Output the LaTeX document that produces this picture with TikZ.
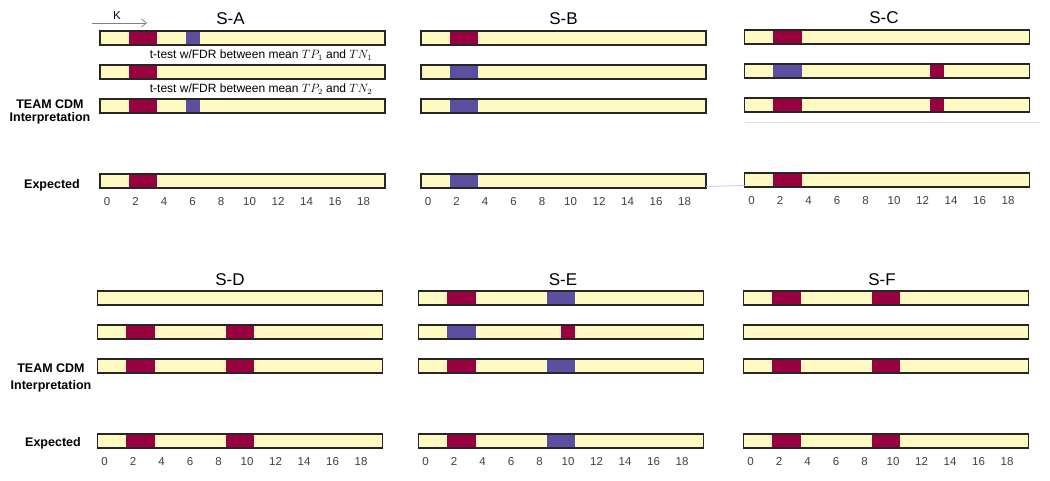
\documentclass[tikz,border=0pt]{standalone}
\usepackage{fontspec}
\setmainfont{Liberation Sans}
\usepackage{xcolor}
\usepackage{tikz}
\usetikzlibrary{positioning,arrows.meta,calc}

\definecolor{trackyellow}{HTML}{FFFAC2}
\definecolor{hitred}{HTML}{990040}
\definecolor{hitblue}{HTML}{5C4EA0}
\definecolor{tickgray}{HTML}{404040}

% fill bins #2..#3 of track #1 with colour #4
\newcommand{\hitbin}[4]{%
  \fill[#4] ([xshift={#2*14.25pt}, yshift=0.75pt]#1.south west) rectangle ([xshift={(#3+1)*14.25pt}, yshift=-0.75pt]#1.north west);}

\begin{document}
\begin{tikzpicture}[
    x=1pt, y=-1pt,
    node distance=20pt,
    track/.style={rectangle, draw=black!85, line width=1.5pt, fill=trackyellow, minimum width=285pt, minimum height=14pt, inner sep=0pt, outer sep=0pt},
    title/.style={font=\fontsize{17}{20}\selectfont, inner sep=0pt},
    tick/.style={font=\fontsize{11.5}{13}\selectfont, text=tickgray, inner sep=0pt},
    rowlabel/.style={font=\fontsize{12.5}{13.5}\selectfont\bfseries, align=center, inner sep=0pt},
    note/.style={font=\fontsize{12}{14}\selectfont, inner sep=0pt},
]
    \useasboundingbox[fill=white] (0,0) rectangle (1050,481);

    % Top panels
    \node[track] (a1) at (242.5,38) {};
    \node[track, below=of a1] (a2) {};
    \node[track, below=of a2] (a3) {};
    \node[track, below=61pt of a3] (a4) {};

    \node[track] (b1) at (563.5,38) {};
    \node[track, below=of b1] (b2) {};
    \node[track, below=of b2] (b3) {};
    \node[track, below=61pt of b3] (b4) {};

    \node[track] (c1) at (887,37) {};
    \node[track, below=of c1] (c2) {};
    \node[track, below=of c2] (c3) {};
    \node[track, below=61pt of c3] (c4) {};

    % Bottom panels
    \node[track] (d1) at (240,298) {};
    \node[track, below=of d1] (d2) {};
    \node[track, below=of d2] (d3) {};
    \node[track, below=61pt of d3] (d4) {};

    \node[track] (e1) at (561,298) {};
    \node[track, below=of e1] (e2) {};
    \node[track, below=of e2] (e3) {};
    \node[track, below=61pt of e3] (e4) {};

    \node[track] (f1) at (886,298) {};
    \node[track, below=of f1] (f2) {};
    \node[track, below=of f2] (f3) {};
    \node[track, below=61pt of f3] (f4) {};

    % Hits
    \hitbin{a1}{2}{3}{hitred} \hitbin{a1}{6}{6}{hitblue}
    \hitbin{a2}{2}{3}{hitred}
    \hitbin{a3}{2}{3}{hitred} \hitbin{a3}{6}{6}{hitblue}
    \hitbin{a4}{2}{3}{hitred}

    \hitbin{b1}{2}{3}{hitred}
    \hitbin{b2}{2}{3}{hitblue}
    \hitbin{b3}{2}{3}{hitblue}
    \hitbin{b4}{2}{3}{hitblue}

    \hitbin{c1}{2}{3}{hitred}
    \hitbin{c2}{2}{3}{hitblue} \hitbin{c2}{13}{13}{hitred}
    \hitbin{c3}{2}{3}{hitred} \hitbin{c3}{13}{13}{hitred}
    \hitbin{c4}{2}{3}{hitred}

    \hitbin{d2}{2}{3}{hitred} \hitbin{d2}{9}{10}{hitred}
    \hitbin{d3}{2}{3}{hitred} \hitbin{d3}{9}{10}{hitred}
    \hitbin{d4}{2}{3}{hitred} \hitbin{d4}{9}{10}{hitred}

    \hitbin{e1}{2}{3}{hitred} \hitbin{e1}{9}{10}{hitblue}
    \hitbin{e2}{2}{3}{hitblue} \hitbin{e2}{10}{10}{hitred}
    \hitbin{e3}{2}{3}{hitred} \hitbin{e3}{9}{10}{hitblue}
    \hitbin{e4}{2}{3}{hitred} \hitbin{e4}{9}{10}{hitblue}

    \hitbin{f1}{2}{3}{hitred} \hitbin{f1}{9}{10}{hitred}
    \hitbin{f3}{2}{3}{hitred} \hitbin{f3}{9}{10}{hitred}
    \hitbin{f4}{2}{3}{hitred} \hitbin{f4}{9}{10}{hitred}

    % Titles
    \node[title, above=6pt of a1, xshift=-12pt] (ta) {S-A};
    \node[title, above=6pt of b1] (tb) {S-B};
    \node[title, above=6pt of c1, xshift=-3pt] (tc) {S-C};
    \node[title, above=5pt of d1, xshift=-10pt] (td) {S-D};
    \node[title, above=5pt of e1, xshift=2pt] (te) {S-E};
    \node[title, above=5pt of f1, xshift=-4pt] (tf) {S-F};

    % Axis numbers
    \foreach \p in {a,b,c,d,e,f}
      \foreach \v in {0,2,...,18}
        \node[tick, below=9pt of \p4.south west, xshift={(\v+0.5)*14.25pt}] (\p4-\v) {\v};

    % Row labels
    \node[rowlabel] (team1) at (50,112) {TEAM CDM\\Interpretation};
    \node[rowlabel] (exp1) at (52,185) {Expected};
    \node[rowlabel, font=\fontsize{12.5}{17}\selectfont\bfseries] (team2) at (51,378) {TEAM CDM\\Interpretation};
    \node[rowlabel] (exp2) at (53,443) {Expected};

    % t-tests
    \node[note, xshift=18.5pt] (tt1) at ($(a1.south)!0.5!(a2.north)$) {t-test w/FDR between mean $TP_1$ and $TN_1$};
    \node[note, xshift=18.5pt] (tt2) at ($(a2.south)!0.5!(a3.north)$) {t-test w/FDR between mean $TP_2$ and $TN_2$};

    % K arrow
    \node[font=\fontsize{11.5}{12}\selectfont, inner sep=0pt] (k) at (117,16) {K};
    \coordinate (kstart) at (92,23);
    \coordinate (kend) at (147,23);
    \draw[gray, line width=0.7pt, -{Straight Barb[length=5pt, width=8pt]}] (kstart) -- (kend);

    % faint rules
    \draw[black!12, line width=0.8pt] ([yshift=-10pt]c3.south west) -- ([yshift=-10pt, xshift=10pt]c3.south east);
    \draw[blue!25, line width=0.8pt] ([yshift=1.5pt]b4.south east) -- ([yshift=1.5pt]c4.south west);
\end{tikzpicture}
\end{document}
